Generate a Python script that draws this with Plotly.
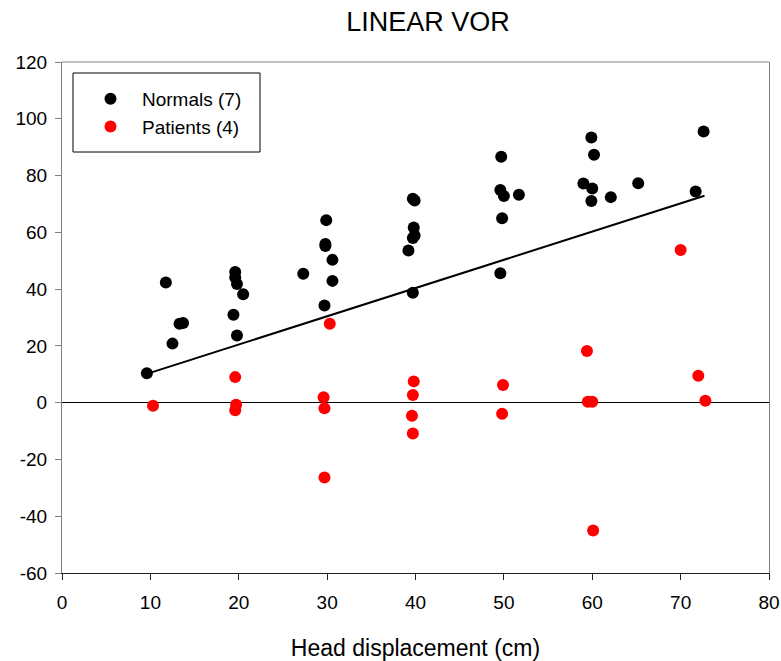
import plotly.graph_objects as go

# ---- data ----
normals_x = [9.6, 11.75, 12.5, 13.3, 13.7,
             19.6, 19.6, 19.8, 20.5, 19.4, 19.8,
             27.3, 29.9, 29.8, 29.8, 30.6, 30.6, 29.7,
             39.7, 39.9, 39.8, 39.9, 39.7, 39.2, 39.7,
             49.7, 49.6, 50.0, 51.7, 49.8, 49.6,
             59.9, 60.2, 59.0, 60.0, 59.9, 62.1,
             65.2, 72.6, 71.7]
normals_y = [10.4, 42.3, 20.8, 27.8, 28.1,
             46.0, 44.1, 41.8, 38.2, 31.0, 23.7,
             45.4, 64.3, 55.9, 55.2, 50.3, 42.9, 34.2,
             71.8, 71.2, 61.7, 58.9, 58.0, 53.6, 38.7,
             86.6, 74.9, 72.8, 73.2, 65.0, 45.6,
             93.4, 87.3, 77.2, 75.4, 71.0, 72.4,
             77.3, 95.5, 74.4]

patients_x = [10.3,
              19.6, 19.7, 19.6,
              30.3, 29.6, 29.7, 29.7,
              39.8, 39.7, 39.6, 39.7,
              49.9, 49.8,
              59.4, 59.5, 60.0, 60.1,
              70.0, 72.0, 72.8]
patients_y = [-1.1,
              9.0, -0.7, -2.7,
              27.8, 1.9, -2.0, -26.4,
              7.5, 2.7, -4.6, -10.9,
              6.2, -3.9,
              18.2, 0.35, 0.35, -45.0,
              53.8, 9.5, 0.7]

fit_x = [9.95, 72.7]
fit_y = [10.5, 72.9]

x_ticks = [0, 10, 20, 30, 40, 50, 60, 70, 80]
y_ticks = [-60, -40, -20, 0, 20, 40, 60, 80, 100, 120]

FONT = "Arial, Liberation Sans, sans-serif"

fig = go.Figure()
fig.add_trace(go.Scatter(x=fit_x, y=fit_y, mode="lines",
                         line=dict(color="black", width=2),
                         showlegend=False, hoverinfo="skip"))
fig.add_trace(go.Scatter(x=normals_x, y=normals_y, mode="markers",
                         name="Normals (7)",
                         marker=dict(color="black", size=12)))
fig.add_trace(go.Scatter(x=patients_x, y=patients_y, mode="markers",
                         name="Patients (4)",
                         marker=dict(color="#ff0000", size=12)))

# body margin is removed below, so the figure sits at (0, 0)
W, H = 781, 661
PL, PR, PT, PB = 62, 769, 62, 573          # plot area in page pixels
L, T, R, B = PL, PT, W - PR, H - PB
pw, ph = W - L - R, H - T - B

def px2paper(px, py):
    return (px - PL) / pw, (PB - py) / ph

x0, y0 = px2paper(73, 152)
x1, y1 = px2paper(260, 73)

fig.update_layout(
    width=W, height=H,
    margin=dict(l=L, r=R, t=T, b=B),
    paper_bgcolor="white", plot_bgcolor="white",
    font=dict(family=FONT, size=19, color="black"),
    title=dict(text="LINEAR VOR", x=px2paper(428, 0)[0], xref="paper",
               y=1 - 22 / H,
               xanchor="center", yanchor="middle",
               font=dict(size=27, family=FONT, color="black")),
    showlegend=True,
    legend=dict(x=px2paper(79, 0)[0], y=px2paper(0, 80)[1],
                xanchor="left", yanchor="top",
                bgcolor="rgba(0,0,0,0)", borderwidth=0,
                font=dict(size=19, family=FONT, color="black"),
                itemwidth=53, tracegroupgap=0),
    xaxis=dict(range=[0, 80], tickvals=x_ticks, ticktext=[str(v) for v in x_ticks],
               showgrid=False, zeroline=False, automargin=False,
               showline=True, linecolor="#222222", linewidth=1,
               ticks="outside", ticklen=6, tickcolor="#222222",
               ticklabelstandoff=6,
               tickfont=dict(size=19, family=FONT),
               title=dict(text="Head displacement (cm)",
                          font=dict(size=23, family=FONT), standoff=30)),
    yaxis=dict(range=[-60, 120], tickvals=y_ticks, ticktext=[str(v) for v in y_ticks],
               showgrid=False, zeroline=True, zerolinecolor="black", zerolinewidth=1,
               automargin=False,
               showline=True, linecolor="#808080", linewidth=1, mirror=True,
               ticks="outside", ticklen=6, tickcolor="#808080",
               ticklabelstandoff=4,
               tickfont=dict(size=19, family=FONT)),
    shapes=[
        dict(type="line", xref="paper", yref="paper", x0=0, x1=1, y0=1, y1=1,
             line=dict(color="#808080", width=1)),
        dict(type="rect", xref="paper", yref="paper", x0=x0, x1=x1, y0=y0, y1=y1,
             line=dict(color="black", width=1), fillcolor="white", layer="below"),
    ],
)

fig.write_html("out.html",
               config={"displayModeBar": False},
               post_script="document.body.style.margin='0';"
                           "document.body.style.overflow='hidden';")
